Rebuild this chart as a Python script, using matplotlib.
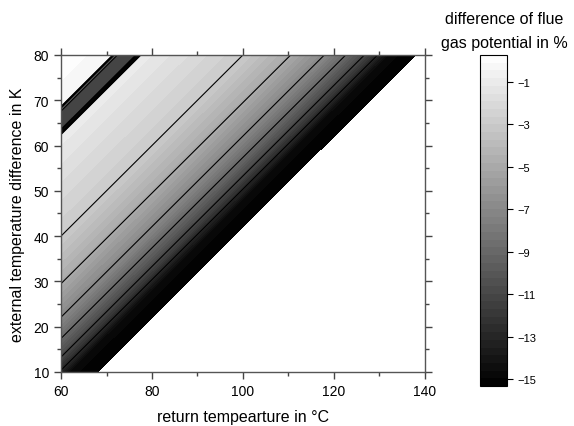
import numpy as np
import matplotlib
matplotlib.use('Agg')
import matplotlib.pyplot as plt
from matplotlib.ticker import MultipleLocator

plt.rcParams['font.family'] = ['Liberation Sans', 'DejaVu Sans']

# values read along the diagonal: offset = return temp - temp difference
offset_pts = [-20, -8.8, -8.3, -7.6, -4.2, -3.4, -2.8, -2.3, 0, 20, 30.5, 37.9, 42.6, 46.7, 49.6, 52, 57.8]
value_pts = [0.1, -0.3, -9, -11, -11, -13.5, -9, -1.0, -1.2, -3, -5, -7, -9, -11, -13, -14.8, -15.3]
offset_max = 58.0

x_range = [60, 140]
y_range = [10, 80]
line_levels = [-13, -11, -9, -7, -5, -3]
cbar_ticks = [-15, -13, -11, -9, -7, -5, -3, -1]
vmin, vmax = -15.33, 0.26

x = np.linspace(x_range[0], x_range[1], 1200)
y = np.linspace(y_range[0], y_range[1], 1050)
X, Y = np.meshgrid(x, y)
D = X - Y
Z = np.interp(D, offset_pts, value_pts)
Z = np.ma.masked_where(D > offset_max, Z)

fig = plt.figure(figsize=(5.74, 4.27), dpi=100)
ax = fig.add_axes([0.1063, 0.1265, 0.634, 0.7424])
cax = fig.add_axes([0.8362, 0.0937, 0.047, 0.775])

fill_levels = np.linspace(vmin, vmax, 44)
cf = ax.contourf(X, Y, Z, levels=fill_levels, cmap='gray', vmin=vmin, vmax=vmax)
ax.contour(X, Y, Z, levels=line_levels, colors='black', linewidths=0.8, linestyles='solid')

ax.set_xlim(x_range)
ax.set_ylim(y_range)
ax.xaxis.set_major_locator(MultipleLocator(20))
ax.xaxis.set_minor_locator(MultipleLocator(10))
ax.yaxis.set_major_locator(MultipleLocator(10))
ax.yaxis.set_minor_locator(MultipleLocator(5))
ax.tick_params(which='both', direction='out', top=True, right=True, color='#444444', labelsize=10)
ax.tick_params(which='major', length=5, width=1)
ax.tick_params(which='minor', length=3, width=1)
for sp in ax.spines.values():
    sp.set_color('#555555')
    sp.set_linewidth(1)

ax.set_xlabel('return tempearture in °C', fontsize=11.5, labelpad=8)
ax.set_ylabel('external temperature difference in K', fontsize=11.5, labelpad=6)

cb = fig.colorbar(cf, cax=cax, ticks=cbar_ticks)
cb.outline.set_linewidth(0.8)
cax.tick_params(direction='out', length=4, width=0.8, labelsize=8)
cax.set_ylim(vmin, vmax)
fig.text(0.878, 0.955, 'difference of flue', ha='center', va='center', fontsize=11.5)
fig.text(0.878, 0.898, 'gas potential in %', ha='center', va='center', fontsize=11.5)

fig.savefig('out.png', dpi=100)
